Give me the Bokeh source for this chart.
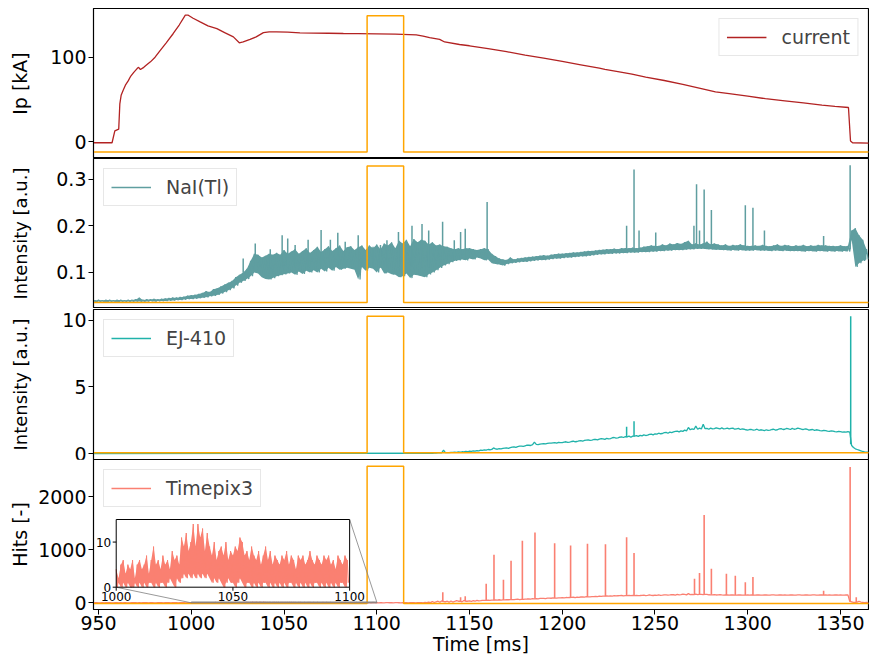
import numpy as np
from bokeh.plotting import figure
from bokeh.layouts import column
from bokeh.models import Range1d, FixedTicker, Legend, LegendItem
from bokeh.core.properties import value
from bokeh.embed import file_html
from bokeh.resources import INLINE

# ------------------------------------------------------------------ data
x_ticks = [950, 1000, 1050, 1100, 1150, 1200, 1250, 1300, 1350]
ip_ticks = [0, 100]
nai_ticks = [0.1, 0.2, 0.3]
ej_ticks = [0, 5, 10]
hits_ticks = [0, 1000, 2000]
inset_xticks = [1000, 1050, 1100]
inset_yticks = [0, 10]

# plasma current [kA]
current_t = [946, 957.3, 958.8, 960.9, 961.5, 962.2, 963.3, 964.5, 966, 967.2, 969,
             970.8, 971.6, 972.6, 974.4, 976, 978, 980.5, 983.3, 986.5, 990.3, 993.5,
             996.8, 998.4, 1001, 1004.8, 1009, 1013.8, 1018, 1022.7, 1025.9, 1028,
             1031.7, 1035, 1038.9, 1042, 1046, 1052, 1058.6, 1066, 1074, 1082, 1090,
             1100, 1110, 1121.3, 1125, 1128.5, 1133.9, 1136.6, 1144.6, 1150, 1160,
             1170, 1180, 1190, 1200, 1210, 1220, 1223, 1230, 1237.6, 1245, 1255, 1265,
             1275, 1282.6, 1290, 1300, 1309.5, 1320, 1330, 1340, 1347, 1354.3, 1355.4,
             1356.5, 1366]
current_kA = [-1, -1, 13, 15, 45, 55, 61, 67, 72, 77, 82,
              86.6, 88, 85.5, 88, 91, 94.5, 100, 108, 117, 128, 138,
              149.6, 149.6, 146, 141.7, 137, 133.8, 129, 124, 117, 118,
              121, 124, 129, 130, 130, 129.5, 128.7, 128.5, 128.3, 128, 127.8,
              127.5, 127.2, 126.3, 125, 123, 121, 118, 115, 113.5, 110,
              106.5, 102.5, 99, 95, 91, 87, 85.5, 83, 80, 76.5, 72.5, 68,
              63, 59, 57, 54, 51, 48.5, 46, 43.5, 42, 40.6, 1,
              -1, -1.5]

# gate pulse (orange), drawn in every panel between its own low/high level
pulse_t = [940, 1094.8, 1094.8, 1114.5, 1114.5, 1370]
pulse_low = [-12.0, 0.0357, 0.05, -13.0]
pulse_high = [149.0, 0.3285, 10.3, 2578.0]

# NaI(Tl): values at t = 946 + 2k (nai_a) and t = 947 + 2k (nai_b)
nai_t0 = 946
nai_a = [0.041, 0.040, 0.041, 0.040, 0.041, 0.041, 0.040, 0.041, 0.041, 0.040,
         0.041, 0.041, 0.042, 0.046, 0.041, 0.042, 0.042, 0.043, 0.042, 0.043,
         0.044, 0.045, 0.046, 0.046, 0.047, 0.048, 0.050, 0.051, 0.052, 0.054,
         0.056, 0.060, 0.058, 0.064, 0.066, 0.070, 0.074, 0.078, 0.082, 0.090,
         0.095, 0.100, 0.108, 0.125, 0.140, 0.138, 0.132, 0.136, 0.140, 0.138,
         0.142, 0.138, 0.148, 0.140, 0.145, 0.150, 0.140, 0.146, 0.152, 0.142,
         0.148, 0.155, 0.144, 0.150, 0.156, 0.146, 0.152, 0.158, 0.146, 0.154,
         0.156, 0.148, 0.154, 0.158, 0.148, 0.158, 0.152, 0.160, 0.150, 0.162,
         0.158, 0.165, 0.152, 0.168, 0.162, 0.170, 0.156, 0.172, 0.165, 0.170,
         0.168, 0.160, 0.165, 0.158, 0.160, 0.156, 0.155, 0.152, 0.150, 0.152,
         0.150, 0.152, 0.152, 0.150, 0.148, 0.150, 0.152, 0.150, 0.140, 0.135,
         0.130, 0.128, 0.127, 0.132, 0.128, 0.130, 0.131, 0.132, 0.133, 0.134,
         0.135, 0.136, 0.137, 0.136, 0.138, 0.139, 0.140, 0.140, 0.141, 0.142,
         0.143, 0.143, 0.144, 0.145, 0.146, 0.146, 0.147, 0.148, 0.149, 0.150,
         0.150, 0.151, 0.150, 0.152, 0.152, 0.152, 0.153, 0.152, 0.153, 0.155,
         0.156, 0.158, 0.157, 0.157, 0.160, 0.158, 0.162, 0.160, 0.163, 0.161,
         0.165, 0.168, 0.160, 0.162, 0.160, 0.162, 0.166, 0.160, 0.162, 0.160,
         0.158, 0.160, 0.157, 0.159, 0.158, 0.160, 0.158, 0.157, 0.157, 0.158,
         0.157, 0.159, 0.157, 0.156, 0.158, 0.160, 0.157, 0.159, 0.158, 0.156,
         0.158, 0.157, 0.159, 0.156, 0.158, 0.157, 0.159, 0.158, 0.158, 0.157,
         0.157, 0.156, 0.158, 0.156, 0.157, 0.190, 0.195, 0.180, 0.170, 0.150]
nai_b = [0.038, 0.037, 0.038, 0.038, 0.037, 0.038, 0.038, 0.037, 0.038, 0.038,
         0.038, 0.038, 0.038, 0.038, 0.038, 0.038, 0.039, 0.038, 0.039, 0.039,
         0.039, 0.040, 0.040, 0.041, 0.041, 0.042, 0.043, 0.043, 0.044, 0.045,
         0.046, 0.047, 0.049, 0.050, 0.052, 0.055, 0.058, 0.062, 0.066, 0.072,
         0.078, 0.082, 0.086, 0.092, 0.100, 0.098, 0.090, 0.086, 0.085, 0.088,
         0.092, 0.094, 0.096, 0.098, 0.100, 0.095, 0.102, 0.097, 0.104, 0.100,
         0.105, 0.100, 0.108, 0.102, 0.110, 0.104, 0.112, 0.106, 0.108, 0.110,
         0.108, 0.106, 0.085, 0.112, 0.104, 0.110, 0.108, 0.100, 0.112, 0.098,
         0.100, 0.096, 0.095, 0.090, 0.092, 0.098, 0.088, 0.095, 0.094, 0.092,
         0.090, 0.096, 0.100, 0.105, 0.110, 0.115, 0.118, 0.122, 0.125, 0.126,
         0.128, 0.126, 0.130, 0.128, 0.132, 0.130, 0.126, 0.128, 0.120, 0.118,
         0.117, 0.115, 0.118, 0.120, 0.121, 0.122, 0.123, 0.123, 0.124, 0.125,
         0.126, 0.127, 0.127, 0.128, 0.129, 0.130, 0.130, 0.131, 0.132, 0.132,
         0.133, 0.134, 0.135, 0.135, 0.136, 0.137, 0.138, 0.139, 0.139, 0.140,
         0.140, 0.141, 0.141, 0.142, 0.142, 0.143, 0.143, 0.143, 0.144, 0.144,
         0.144, 0.145, 0.145, 0.146, 0.146, 0.147, 0.147, 0.148, 0.148, 0.148,
         0.149, 0.150, 0.150, 0.151, 0.151, 0.151, 0.150, 0.150, 0.149, 0.149,
         0.148, 0.148, 0.147, 0.148, 0.147, 0.148, 0.147, 0.147, 0.147, 0.148,
         0.147, 0.147, 0.147, 0.146, 0.147, 0.147, 0.146, 0.147, 0.146, 0.146,
         0.146, 0.146, 0.145, 0.146, 0.146, 0.145, 0.146, 0.146, 0.145, 0.146,
         0.145, 0.146, 0.145, 0.146, 0.145, 0.170, 0.112, 0.120, 0.125, 0.128]
# NaI(Tl) narrow spikes: time, peak, foot
nai_spike_t = [1028.0, 1034.5, 1042.6, 1049.0, 1052.0, 1056.0, 1063.0, 1070.0, 1075.0,
               1079.0, 1083.0, 1090.0, 1098.0, 1102.0, 1105.5, 1111.7, 1119.0, 1124.4,
               1128.0, 1135.5, 1141.8, 1145.2, 1147.7, 1159.5, 1234.7, 1238.7, 1241.4,
               1250.4, 1271.0, 1272.4, 1274.0, 1276.5, 1280.4, 1298.7, 1302.8, 1309.0,
               1340.9, 1355.2]
nai_spike_peak = [0.130, 0.162, 0.150, 0.180, 0.173, 0.159, 0.170, 0.191, 0.170,
                  0.185, 0.166, 0.180, 0.155, 0.159, 0.169, 0.187, 0.200, 0.204,
                  0.190, 0.209, 0.169, 0.187, 0.194, 0.251, 0.200, 0.321, 0.190,
                  0.186, 0.200, 0.289, 0.190, 0.278, 0.234, 0.244, 0.239, 0.190,
                  0.178, 0.330]
nai_spike_foot = [0.100, 0.105, 0.110, 0.110, 0.110, 0.112, 0.112, 0.112, 0.112,
                  0.112, 0.112, 0.110, 0.110, 0.110, 0.110, 0.110, 0.110, 0.110,
                  0.110, 0.120, 0.125, 0.130, 0.130, 0.130, 0.145, 0.145, 0.145,
                  0.147, 0.152, 0.152, 0.152, 0.152, 0.152, 0.150, 0.150, 0.150,
                  0.148, 0.150]

# EJ-410: flat part, then values at t = 1130 + 2k (ej_a) and t = 1131 + 2k (ej_b)
ej_flat_t = [946, 1129]
ej_flat_v = [0.0, 0.02]
ej_t0 = 1130
ej_a = [0.02, 0.03, 0.05, 0.25, 0.07, 0.09, 0.10, 0.12, 0.13, 0.15,
        0.17, 0.20, 0.22, 0.25, 0.27, 0.30, 0.31, 0.34, 0.36, 0.38,
        0.42, 0.44, 0.50, 0.52, 0.56, 0.58, 0.62, 0.66, 0.68, 0.70,
        0.74, 0.76, 0.78, 0.82, 0.84, 0.82, 0.88, 0.86, 0.92, 0.90,
        0.96, 0.98, 1.02, 1.00, 1.06, 1.08, 1.10, 1.14, 1.12, 1.20,
        1.18, 1.24, 1.26, 1.30, 1.30, 1.34, 1.36, 1.40, 1.38, 1.46,
        1.48, 1.52, 1.50, 1.58, 1.60, 1.62, 1.68, 1.70, 1.75, 1.95,
        1.85, 2.05, 1.90, 2.20, 1.88, 1.90, 1.86, 1.88, 1.92, 1.86,
        1.84, 1.90, 1.85, 1.80, 1.82, 1.76, 1.80, 1.78, 1.74, 1.76,
        1.78, 1.75, 1.82, 1.78, 1.86, 1.82, 1.84, 1.88, 1.84, 1.86,
        1.80, 1.82, 1.78, 1.74, 1.76, 1.70, 1.72, 1.66, 1.68, 1.62,
        1.64, 1.62, 1.64, 0.60, 0.35, 0.25, 0.15, 0.10]
ej_b = [0.03, 0.04, 0.04, 0.06, 0.06, 0.08, 0.09, 0.10, 0.12, 0.13,
        0.16, 0.18, 0.20, 0.23, 0.25, 0.28, 0.42, 0.32, 0.35, 0.40,
        0.39, 0.48, 0.46, 0.55, 0.54, 0.62, 0.60, 0.85, 0.66, 0.72,
        0.72, 0.78, 0.80, 0.78, 0.82, 0.86, 0.84, 0.90, 0.88, 0.95,
        0.92, 1.00, 0.98, 1.05, 1.02, 1.12, 1.06, 1.10, 1.18, 1.15,
        1.22, 1.20, 1.25, 1.22, 1.30, 1.28, 1.32, 1.35, 1.44, 1.40,
        1.45, 1.48, 1.56, 1.52, 1.56, 1.66, 1.62, 1.66, 1.70, 1.78,
        1.80, 1.82, 1.84, 1.86, 1.82, 1.84, 1.92, 1.84, 1.85, 1.90,
        1.88, 1.82, 1.88, 1.84, 1.78, 1.80, 1.75, 1.82, 1.78, 1.72,
        1.74, 1.80, 1.76, 1.84, 1.80, 1.88, 1.80, 1.82, 1.90, 1.82,
        1.84, 1.76, 1.80, 1.78, 1.72, 1.74, 1.68, 1.70, 1.64, 1.66,
        1.60, 1.60, 1.60, 0.45, 0.30, 0.20, 0.12, 0.10]
ej_spike_t = [1234.7, 1238.7, 1355.5]
ej_spike_peak = [2.00, 2.42, 10.30]
ej_spike_foot = [1.22, 1.28, 0.70]

# Timepix3 hits
# early part: t = 946 + 2k (a) and 947 + 2k (b)
tpx_early_t0 = 946
tpx_early_a = [1, 2, 0, 3, 1, 2, 0, 2, 1, 3, 0, 2, 1, 2, 3, 1, 2, 0, 3, 1, 2, 4, 1, 3, 2, 4, 3]
tpx_early_b = [0, 1, 0, 0, 1, 0, 1, 0, 0, 1, 0, 1, 0, 0, 1, 0, 1, 0, 1, 0, 1, 0, 1, 0, 1, 0, 1]
# zoomed part (inset): t = 1000 + k (hi) and 1000.5 + k (lo)
tpx_zoom_t0 = 1000
tpx_zoom_hi = [4, 2, 5, 6, 3, 5, 4, 6, 2, 5,
               6, 4, 5, 7, 3, 6, 9, 5, 6, 4,
               7, 5, 6, 4, 8, 6, 7, 5, 11, 9,
               12, 8, 10, 14, 9, 14, 11, 13, 8, 12,
               9, 7, 10, 6, 8, 9, 7, 10, 6, 8,
               7, 9, 8, 11, 10, 7, 8, 6, 9, 7,
               6, 8, 5, 7, 9, 6, 8, 5, 7, 6,
               5, 7, 6, 8, 5, 7, 6, 4, 7, 6,
               7, 5, 6, 8, 6, 5, 7, 6, 5, 7,
               6, 7, 5, 6, 4, 7, 6, 5, 7, 6]
tpx_zoom_lo = [0, 1, 0, 1, 0, 1, 0, 0, 1, 0,
               1, 0, 1, 0, 1, 1, 0, 1, 0, 1,
               1, 0, 1, 2, 1, 0, 2, 1, 2, 3,
               2, 3, 2, 3, 2, 3, 2, 3, 2, 3,
               2, 1, 2, 1, 2, 1, 0, 1, 2, 1,
               1, 0, 1, 2, 1, 0, 1, 1, 0, 1,
               0, 1, 0, 1, 1, 0, 1, 0, 1, 0,
               1, 0, 1, 0, 1, 1, 0, 1, 0, 1,
               0, 1, 0, 1, 0, 1, 1, 0, 1, 0,
               1, 0, 1, 0, 1, 0, 1, 1, 0, 1]
# late part: t = 1100 + 2k (a) and 1101 + 2k (b)
tpx_late_t0 = 1100
tpx_late_a = [2, 3, 0, 4, 2, 3, 1, 3, 2, 4,
              3, 2, 4, 6, 15, 25, 20, 10, 25, 30,
              35, 25, 30, 20, 30, 35, 40, 45, 40, 45,
              50, 52, 55, 58, 55, 60, 60, 60, 68, 65,
              70, 75, 78, 80, 82, 85, 88, 86, 90, 95,
              98, 100, 100, 105, 108, 110, 108, 112, 118, 120,
              125, 128, 130, 132, 135, 133, 138, 135, 140, 138,
              140, 138, 145, 140, 142, 145, 148, 144, 150, 148,
              152, 158, 155, 160, 174, 160, 165, 158, 155, 160,
              150, 155, 150, 148, 148, 146, 148, 145, 148, 146,
              150, 148, 145, 150, 146, 148, 144, 150, 145, 148,
              150, 145, 148, 146, 150, 144, 148, 145, 150, 146,
              150, 148, 150, 145, 148, 150, 145, 150, 20, 10,
              30, 10, 8]
tpx_late_b = [0, 1, 2, 1, 0, 2, 0, 1, 0, 1,
              0, 1, 0, 2, 3, 5, 30, 35, 20, 12,
              15, 40, 32, 45, 30, 25, 30, 35, 48, 46,
              45, 50, 50, 52, 55, 58, 62, 65, 62, 66,
              72, 70, 76, 76, 85, 80, 90, 92, 90, 92,
              94, 97, 102, 100, 104, 112, 115, 112, 115, 116,
              122, 126, 126, 128, 130, 136, 132, 134, 136, 136,
              135, 142, 136, 150, 138, 140, 142, 150, 145, 155,
              146, 150, 162, 150, 155, 156, 155, 160, 158, 152,
              150, 148, 152, 145, 150, 150, 146, 150, 144, 146,
              145, 147, 148, 144, 150, 145, 150, 146, 148, 144,
              146, 150, 144, 150, 145, 148, 146, 150, 144, 148,
              146, 145, 146, 150, 144, 146, 148, 30, 10, 12,
              15, 5, 3]
# Timepix3 narrow spikes: time, peak, foot
tpx_spike_t = [1135.6, 1145.2, 1147.7, 1159.0, 1163.2, 1168.3, 1172.4, 1178.5, 1185.3,
               1195.9, 1204.5, 1213.6, 1223.3, 1234.7, 1238.7, 1271.3, 1274.0, 1276.5,
               1280.4, 1288.5, 1293.3, 1298.7, 1302.8, 1340.9, 1355.2, 1358.5]
tpx_spike_peak = [200, 106, 125, 362, 906, 437, 794, 1169, 1325,
                  1126, 1081, 1113, 1107, 1238, 938, 456, 562, 1657,
                  644, 550, 512, 387, 487, 230, 2563, 106]
tpx_spike_foot = [20, 30, 30, 45, 50, 55, 60, 66, 76,
                  90, 100, 110, 125, 133, 136, 155, 158, 158,
                  150, 148, 146, 146, 145, 146, 20, 10]

# ------------------------------------------------------------------ helpers
def zigzag(t0, step, a, b):
    a = np.asarray(a, float)
    b = np.asarray(b, float)
    ta = t0 + step * np.arange(len(a))
    t = np.column_stack([ta, ta + step / 2.0]).ravel()
    v = np.column_stack([a, b]).ravel()
    return t, v, ta

FONT = "DejaVu Sans"
FS = "19px"
C_CUR = "#b22222"
C_NAI = "#5f9ea0"
C_EJ = "#20b2aa"
C_TPX = "#fa8072"
C_PULSE = "#ffa500"

x_range = Range1d(947.3, 1365.1)
y_ranges = [(-19.6, 157.5), (0.0228, 0.3444), (-0.45, 10.8), (-126.0, 2704.0)]


def make_panel(idx, yticks, ylabel, label_standoff, label_fs=FS, top=0, bottom=0, xaxis=False):
    p = figure(frame_width=775, frame_height=150, x_range=x_range,
               y_range=Range1d(*y_ranges[idx]), output_backend="svg",
               toolbar_location=None, min_border_left=93, min_border_right=1,
               min_border_top=top, min_border_bottom=bottom,
               x_axis_location="below" if xaxis else None,
               background_fill_color="white", border_fill_color="white")
    p.xgrid.visible = False
    p.ygrid.visible = False
    p.outline_line_color = "black"
    p.outline_line_width = 1.2
    p.outline_line_alpha = 1.0
    ax = p.yaxis[0]
    ax.ticker = FixedTicker(ticks=yticks)
    ax.minor_tick_line_color = None
    ax.major_tick_out = 5
    ax.major_tick_in = 0
    ax.major_tick_line_color = "black"
    ax.axis_line_color = "black"
    ax.major_label_standoff = 2
    ax.major_label_text_font = FONT
    ax.major_label_text_font_size = FS
    ax.major_label_text_color = "black"
    ax.axis_label = ylabel
    ax.axis_label_text_font = FONT
    ax.axis_label_text_font_size = label_fs
    ax.axis_label_text_font_style = "normal"
    ax.axis_label_text_color = "black"
    ax.axis_label_standoff = label_standoff
    if xaxis:
        xa = p.xaxis[0]
        xa.ticker = FixedTicker(ticks=x_ticks)
        xa.minor_tick_line_color = None
        xa.major_tick_out = 5
        xa.major_tick_in = 0
        xa.major_label_standoff = 1
        xa.major_label_text_font = FONT
        xa.major_label_text_font_size = FS
        xa.major_label_text_color = "black"
        xa.axis_label = "Time [ms]"
        xa.axis_label_text_font = FONT
        xa.axis_label_text_font_size = FS
        xa.axis_label_text_font_style = "normal"
        xa.axis_label_text_color = "black"
        xa.axis_label_standoff = 0
    return p


def add_pulse(p, idx):
    lo, hi = pulse_low[idx], pulse_high[idx]
    p.line(pulse_t, [lo, lo, hi, hi, lo, lo], line_color=C_PULSE, line_width=1.5)


def add_legend(p, r, label, loc):
    leg = Legend(items=[LegendItem(label=label, renderers=[r])], location=loc,
                 label_text_font=FONT, label_text_font_size=FS,
                 glyph_width=40, glyph_height=20, label_standoff=15,
                 label_height=20, padding=7, spacing=0, margin=10,
                 border_line_color="#d0d0d0", border_line_width=1,
                 background_fill_color="white", background_fill_alpha=0.8)
    p.add_layout(leg)


# ---- panel 1: current
p1 = make_panel(0, ip_ticks, "Ip [kA]", 16, top=8)
r1 = p1.line(current_t, current_kA, line_color=C_CUR, line_width=1.3)
add_pulse(p1, 0)
add_legend(p1, r1, "current", "top_right")

# ---- panel 2: NaI(Tl)
p2 = make_panel(1, nai_ticks, "Intensity [a.u.]", 22, label_fs="18px")
nt, nv, nta = zigzag(nai_t0, 2, nai_a, nai_b)
p2.varea(x=nta, y1=nai_a, y2=nai_b, fill_color=C_NAI)
r2 = p2.line(nt, nv, line_color=C_NAI, line_width=1.3)
p2.segment(x0=nai_spike_t, y0=nai_spike_foot, x1=nai_spike_t, y1=nai_spike_peak,
           line_color=C_NAI, line_width=1.5)
add_pulse(p2, 1)
add_legend(p2, r2, "NaI(Tl)", "top_left")

# ---- panel 3: EJ-410 (small extra bottom border so the "0" label is not cut)
p3 = make_panel(2, ej_ticks, "Intensity [a.u.]", 28, label_fs="18px", top=1, bottom=6)
et, ev, _ = zigzag(ej_t0, 2, ej_a, ej_b)
et = np.concatenate([ej_flat_t, et])
ev = np.concatenate([ej_flat_v, ev])
r3 = p3.line(et, ev, line_color=C_EJ, line_width=1.3)
p3.segment(x0=ej_spike_t, y0=ej_spike_foot, x1=ej_spike_t, y1=ej_spike_peak,
           line_color=C_EJ, line_width=1.5)
add_pulse(p3, 2)
add_legend(p3, r3, "EJ-410", "top_left")

# ---- panel 4: Timepix3
p4 = make_panel(3, hits_ticks, "Hits [-]", 4, xaxis=True)
try:
    p4.margin = (-6, 0, 0, 0)
except Exception:
    p3.min_border_bottom = 0
t_e, v_e, _ = zigzag(tpx_early_t0, 2, tpx_early_a, tpx_early_b)
t_z, v_z, t_zh = zigzag(tpx_zoom_t0, 1, tpx_zoom_hi, tpx_zoom_lo)
t_l, v_l, _ = zigzag(tpx_late_t0, 2, tpx_late_a, tpx_late_b)
tt = np.concatenate([t_e, t_z, t_l])
tv = np.concatenate([v_e, v_z, v_l])
r4 = p4.line(tt, tv, line_color=C_TPX, line_width=1.3)
p4.segment(x0=tpx_spike_t, y0=tpx_spike_foot, x1=tpx_spike_t, y1=tpx_spike_peak,
           line_color=C_TPX, line_width=1.6)
add_pulse(p4, 3)
add_legend(p4, r4, "Timepix3", "top_left")

# inset (zoom of 1000-1100 ms), placed by axes fractions like an inset_axes
ins_x0, ins_w, ins_y0, ins_h = 0.0293, 0.3012, 0.1487, 0.4513
ins_xlim = (1000.0, 1100.0)
ins_ylim = (0.0, 15.0)
ixs = ins_xlim[0] - ins_x0 * (ins_xlim[1] - ins_xlim[0]) / ins_w
ixe = ixs + (ins_xlim[1] - ins_xlim[0]) / ins_w
iys = ins_ylim[0] - ins_y0 * (ins_ylim[1] - ins_ylim[0]) / ins_h
iye = iys + (ins_ylim[1] - ins_ylim[0]) / ins_h
p4.extra_x_ranges = {"ix": Range1d(ixs, ixe)}
p4.extra_y_ranges = {"iy": Range1d(iys, iye)}

# indicator rectangle + connectors (main data coordinates)
xr0, xr1 = x_range.start, x_range.end
yr0, yr1 = y_ranges[3]
corner_bl = (xr0 + ins_x0 * (xr1 - xr0), yr0 + ins_y0 * (yr1 - yr0))
corner_tr = (xr0 + (ins_x0 + ins_w) * (xr1 - xr0), yr0 + (ins_y0 + ins_h) * (yr1 - yr0))
p4.quad(left=[ins_xlim[0]], right=[ins_xlim[1]], bottom=[ins_ylim[0]], top=[ins_ylim[1]],
        fill_color=None, line_color="#808080", line_width=1)
p4.segment(x0=[corner_bl[0], corner_tr[0]], y0=[corner_bl[1], corner_tr[1]],
           x1=[ins_xlim[0], ins_xlim[1]], y1=[ins_ylim[0], ins_ylim[1]],
           line_color="#808080", line_alpha=0.8, line_width=1)

kw = dict(x_range_name="ix", y_range_name="iy")
p4.quad(left=[ins_xlim[0]], right=[ins_xlim[1]], bottom=[ins_ylim[0]], top=[ins_ylim[1]],
        fill_color="white", line_color=None, **kw)
p4.varea(x=t_zh, y1=tpx_zoom_hi, y2=tpx_zoom_lo, fill_color=C_TPX, **kw)
p4.line(t_z, v_z, line_color=C_TPX, line_width=1.0, **kw)
p4.quad(left=[ins_xlim[0]], right=[ins_xlim[1]], bottom=[ins_ylim[0]], top=[ins_ylim[1]],
        fill_color=None, line_color="black", line_width=1, **kw)

# inset ticks (3.5 px long) and labels
px_per_ix = 775 * ins_w / (ins_xlim[1] - ins_xlim[0])
px_per_iy = 150 * ins_h / (ins_ylim[1] - ins_ylim[0])
tl_x = 3.5 / px_per_ix
tl_y = 3.5 / px_per_iy
p4.segment(x0=[ins_xlim[0]] * len(inset_yticks), y0=inset_yticks,
           x1=[ins_xlim[0] - tl_x] * len(inset_yticks), y1=inset_yticks,
           line_color="black", line_width=1, **kw)
p4.segment(x0=inset_xticks, y0=[ins_ylim[0]] * len(inset_xticks),
           x1=inset_xticks, y1=[ins_ylim[0] - tl_y] * len(inset_xticks),
           line_color="black", line_width=1, **kw)
p4.text(x=[ins_xlim[0]] * len(inset_yticks), y=inset_yticks,
        text=[str(v) for v in inset_yticks], text_align="right", text_baseline="middle",
        x_offset=-5, text_font=value(FONT), text_font_size="12px", text_color="black", **kw)
p4.text(x=inset_xticks, y=[ins_ylim[0]] * len(inset_xticks),
        text=[str(v) for v in inset_xticks], text_align="center", text_baseline="top",
        y_offset=5, text_font=value(FONT), text_font_size="12px", text_color="black", **kw)

layout = column(p1, p2, p3, p4, spacing=0)
open("out.html", "w").write(file_html(layout, INLINE))
